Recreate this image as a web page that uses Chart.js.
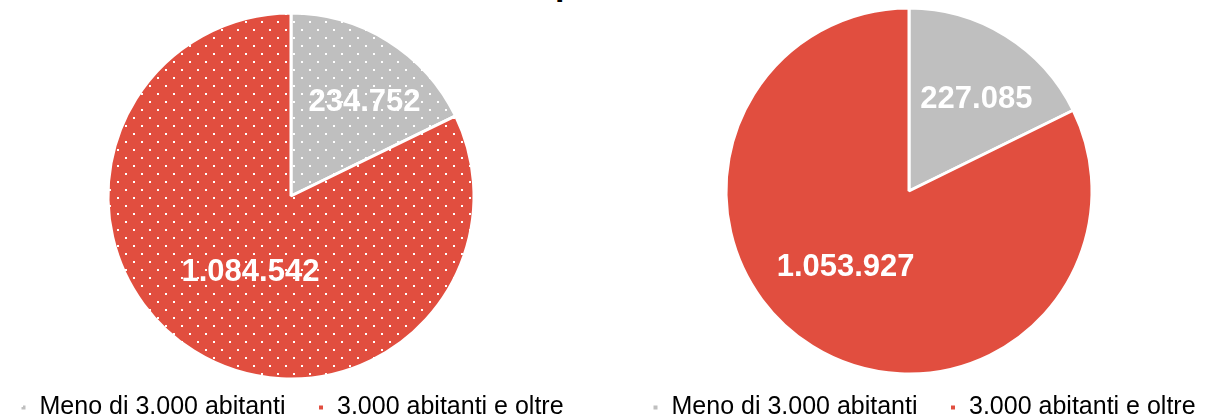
<!DOCTYPE html>
<html>
<head>
<meta charset="utf-8">
<script src="https://cdn.jsdelivr.net/npm/chart.js@4"></script>
<style>
    html, body { margin: 0; padding: 0; background: #fff; }
    body { width: 1232px; height: 420px; position: relative; overflow: hidden; font-family: "Liberation Sans", Arial, sans-serif; }
    .box { position: absolute; top: 0; height: 430px; }
    #leftBox { left: -60px; width: 702px; }
    #rightBox { left: 560px; width: 700px; }
    /* title cut off above the picture, only a descender shows */
    #titleCut { position: absolute; left: 555px; top: 0; width: 14px; height: 7px; overflow: hidden; }
    #titleCut span { position: absolute; left: 0; top: -34px; font: bold 34px "Liberation Sans", Arial, sans-serif; line-height: 34px; color: #000; }
</style>
</head>
<body>
<div id="titleCut"><span>p</span></div>
<div class="box" id="leftBox"><canvas id="leftChart"></canvas></div>
<div class="box" id="rightBox"><canvas id="rightChart"></canvas></div>

<script>
// Data
const categories = ['Meno di 3.000 abitanti', '3.000 abitanti e oltre'];
const leftValues = [234752, 1084542];
const rightValues = [227085, 1053927];

const GREY = '#BFBFBF';
const RED = '#E14E3F';

// Dotted fill like the left pie
function dotPattern(base) {
    const tile = document.createElement('canvas');
    tile.width = 16;
    tile.height = 16;
    const c = tile.getContext('2d');
    c.fillStyle = base;
    c.fillRect(0, 0, 16, 16);
    c.fillStyle = '#ffffff';
    c.fillRect(1, 5, 2, 2);
    c.fillRect(9, 13, 2, 2);
    return c.createPattern(tile, 'repeat');
}

// Italian thousands separator
function fmt(v) {
    return String(v).replace(/\B(?=(\d{3})+(?!\d))/g, '.');
}

// Draw the values inside the slices
const sliceLabels = {
    id: 'sliceLabels',
    afterDatasetsDraw(chart, args, opts) {
        const ctx = chart.ctx;
        const meta = chart.getDatasetMeta(0);
        const data = chart.data.datasets[0].data;
        ctx.save();
        ctx.font = 'bold 31px "Liberation Sans", Arial, sans-serif';
        ctx.fillStyle = '#ffffff';
        ctx.textAlign = 'center';
        ctx.textBaseline = 'middle';
        meta.data.forEach((arc, i) => {
            const p = arc.tooltipPosition();
            const off = opts.offsets[i] || [0, 0];
            ctx.fillText(fmt(data[i]), p.x + off[0], p.y + off[1]);
        });
        ctx.restore();
    }
};

// Legend sits left of the pie centre in the original, slide it over
const legendShift = {
    id: 'legendShift',
    afterLayout(chart, args, opts) {
        chart.legend.left += opts.dx;
        chart.legend.right += opts.dx;
    }
};

function makePie(id, values, fills, padding, offsets, dx) {
    const ctx = document.getElementById(id).getContext('2d');
    return new Chart(ctx, {
        type: 'pie',
        data: {
            labels: categories,
            datasets: [{
                data: values,
                backgroundColor: fills,
                borderColor: '#ffffff',
                borderWidth: 3,
                radius: 183,
                clip: false
            }]
        },
        options: {
            responsive: true,
            maintainAspectRatio: false,
            animation: false,
            layout: { padding: padding },
            plugins: {
                legend: {
                    position: 'bottom',
                    align: 'start',
                    labels: {
                        boxWidth: 7,
                        boxHeight: 7,
                        padding: 32,
                        color: '#000000',
                        font: { family: '"Liberation Sans", Arial, sans-serif', size: 25 }
                    }
                },
                tooltip: { enabled: false },
                sliceLabels: { offsets: offsets },
                legendShift: { dx: dx }
            }
        },
        plugins: [sliceLabels, legendShift]
    });
}

makePie('leftChart', leftValues, [dotPattern(GREY), dotPattern(RED)],
    { left: 0, right: 0, top: 29, bottom: 0 }, [[25, -16], [8, -1]], 48);
makePie('rightChart', rightValues, [GREY, RED],
    { left: 0, right: 2, top: 19, bottom: 0 }, [[19, -14], [-15, -1]], 60);
</script>
</body>
</html>
